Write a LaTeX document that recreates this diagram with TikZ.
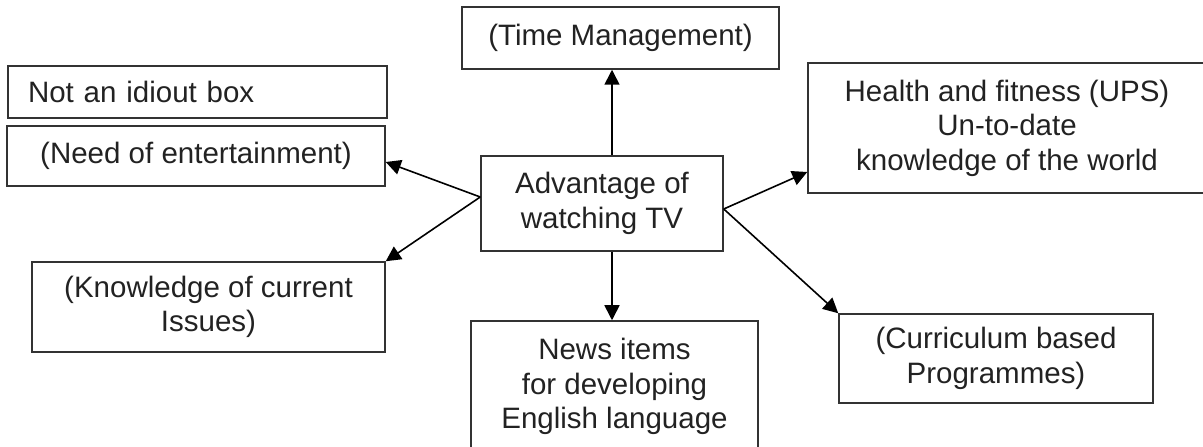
\documentclass[tikz,border=0pt]{standalone}
\usepackage{fontspec}
\setmainfont{Liberation Sans}
\usepackage{xcolor}
\usetikzlibrary{arrows.meta,positioning,calc}
\definecolor{TxtC}{HTML}{222222}
\definecolor{LineC}{HTML}{333333}

\tikzset{
  idea/.style={draw=LineC, line width=1.5pt, text=TxtC, align=center,
               inner sep=0pt, font=\fontsize{29.5}{34.5}\selectfont},
  link/.style={-{Triangle[length=15pt,width=15pt]}, line width=1.6pt, black},
}

\begin{document}
\begin{tikzpicture}[x=1pt,y=1pt]
    \useasboundingbox (0,0) rectangle (1203,447);

    % centre
    \node[idea, minimum width=242pt, minimum height=95pt] (adv) at (602,243.5)
      {Advantage of\\watching TV};

    % around it
    \node[idea, minimum width=317pt, minimum height=62pt] (time) at (620.5,409)
      {(Time Management)};
    \node[idea, text width=339pt, inner xsep=20pt, minimum height=52pt,
          align=left] (idiot) at (197.5,355)
      {Not an idiout box};
    \node[idea, minimum width=378pt, minimum height=60pt] (need) at (196,291)
      {(Need of entertainment)};
    \node[idea, minimum width=353pt, minimum height=90pt] (know) at (208.5,140)
      {(Knowledge of current\\Issues)};
    \node[idea, minimum width=398pt, minimum height=130pt] (health) at (1007,319)
      {Health and fitness (UPS)\\Un-to-date\\knowledge of the world};
    \node[idea, minimum width=287pt, minimum height=131pt] (news) at (614.5,60.5)
      {News items\\for developing\\English language};
    \node[idea, minimum width=314pt, minimum height=89pt] (curr) at (996,88.5)
      {(Curriculum based\\Programmes)};

    % arrows
    \draw[link] ([xshift=10pt]adv.north) -- ([xshift=10pt]adv.north |- time.south);
    \draw[link] ([xshift=10pt]adv.south) -- ([xshift=10pt]adv.south |- news.north);
    \draw[link] ([yshift=6.5pt]adv.west) -- ([yshift=-6pt]need.east);
    \draw[link] ([yshift=6.5pt]adv.west) -- (know.north east);
    \draw[link] ([yshift=-5.5pt]adv.east) -- ([yshift=-44pt]health.west);
    \draw[link] ([yshift=-5.5pt]adv.east) -- (curr.north west);
\end{tikzpicture}
\end{document}
